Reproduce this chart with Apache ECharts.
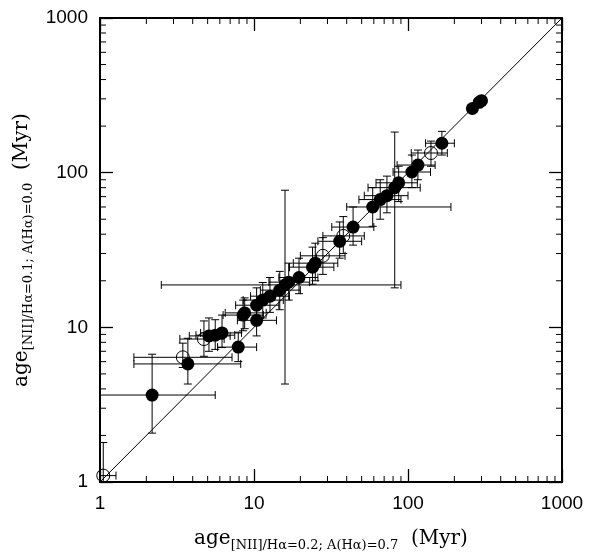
<!DOCTYPE html>
<html><head><meta charset="utf-8">
<script src="https://cdn.jsdelivr.net/npm/echarts@6/dist/echarts.min.js"></script>
<style>html,body{margin:0;padding:0;background:#fff}#c{width:601px;height:560px}</style>
</head><body><div id="c"></div>
<script>
// x, y, xLo, xHi, yLo, yHi, filled(1)/open(0)
const xVals =  [1.05,2.18,3.72,3.45,4.73,5.1,5.6,6.2,7.9,8.5,8.7,10.4,10.4,11.4,12.7,14.7,15.9,16.8,19.6,24,25,28,36,38,44,59,66,73,82,87,106,116,141,166,262,290,300];
const yVals =  [1.1,3.65,5.8,6.4,8.4,8.8,8.9,9.2,7.45,12.0,12.4,11.1,13.9,15.0,15.9,17.4,18.8,19.6,21,24.5,26,29,36,39,44.5,60,67,71,80,86,101,112,134,155,260,285,292];
const xLo =    [1.0,1.0,1.66,1.66,3.3,3.8,4.2,4.5,5.8,6.3,6.5,7.8,7.6,8.5,9.5,11,2.5,12.5,14.5,17,18,20,26,28,32,40,48,52,55,62,80,85,105,130,245,275,285];
const xHi =    [1.27,5.6,8.2,7.2,6.4,7,7.5,8.3,10.4,11.5,12,14,14.5,15.5,17,20,90,23,26,33,35,39,50,52,60,190,90,100,120,115,140,150,180,200,280,305,315];
const yLo =    [1.0,2.07,4.3,5.5,6.5,7,7.2,7.4,6.0,9.5,9.8,8.8,11,11.5,12.5,13,4.3,15,16.5,19,20,22,28,30,34,45,50,55,18,65,80,90,110,130,245,275,280];
const yHi =    [1.8,6.7,8.5,7.9,11,11.5,11.2,12,9.3,15,15.5,14,18,19.5,21,23,77,26,28,33,35,38,48,52,60,80,90,95,183,110,130,140,160,185,275,300,305];
const filled = [0,1,1,0,0,1,1,1,1,1,1,1,1,1,1,1,1,1,1,1,1,0,1,0,1,1,1,1,1,1,1,1,0,1,1,1,1];
const minorTickVals = [2,3,4,5,6,7,8,9,20,30,40,50,60,70,80,90,200,300,400,500,600,700,800,900];

const pts = xVals.map((x,i)=>[x,yVals[i],xLo[i],xHi[i],yLo[i],yHi[i]]);
const chart = echarts.init(document.getElementById('c'));
const tickFont = {fontFamily:'Liberation Sans',fontSize:19,color:'#000'};
const axBase = (pos, show) => ({
  type:'log', logBase:10, min:1, max:1000, position:pos,
  axisLine:{show:true,onZero:false,lineStyle:{color:'#000',width:2}},
  axisTick:{show:true,inside:true,length:13,lineStyle:{color:'#000',width:1.3}},
  splitLine:{show:false},
  axisLabel:Object.assign({show:show,margin:12,formatter:v=>String(v)},tickFont)
});
const serif = 'DejaVu Serif';
const rich = {
  a:{fontFamily:serif,fontSize:20,color:'#000'},
  s:{fontFamily:serif,fontSize:13,color:'#000',verticalAlign:'bottom',padding:[13,0,0,0]}
};
const xA = Object.assign(axBase('bottom',true),{name:'{a|age}{s|[NII]/Hα=0.2; A(Hα)=0.7}{a|  (Myr)}',nameLocation:'middle',nameGap:44,nameTextStyle:{rich:rich}});
const yA = Object.assign(axBase('left',true),{name:'{a|age}{s|[NII]/Hα=0.1; A(Hα)=0.0}{a|  (Myr)}',nameLocation:'middle',nameGap:58,nameTextStyle:{rich:rich,padding:[0,0,0,0]}});
chart.setOption({
  animation:false,
  grid:{left:100,right:39,top:18,bottom:78},
  xAxis:[xA, axBase('top',false)],
  yAxis:[yA, axBase('right',false)],
  series:[
    {type:'custom',data:minorTickVals.map(v=>[v]),z:1,silent:true,renderItem:(p,api)=>{
      const v=api.value(0);
      const a=api.coord([v,1]), b=api.coord([v,1000]), c=api.coord([1,v]), d=api.coord([1000,v]);
      const st={stroke:'#000',lineWidth:1}, L=6;
      const ln=(x1,y1,x2,y2)=>({type:'line',shape:{x1,y1,x2,y2},style:st});
      return {type:'group',children:[ln(a[0],a[1],a[0],a[1]-L),ln(b[0],b[1],b[0],b[1]+L),ln(c[0],c[1],c[0]+L,c[1]),ln(d[0],d[1],d[0]-L,d[1])]};
    }},
    {type:'line',data:[[1,1],[1000,1000]],symbol:'none',lineStyle:{color:'#000',width:1},z:1},
    {type:'custom',data:pts,z:2,renderItem:(p,api)=>{
      const c=api.coord([api.value(0),api.value(1)]);
      const xl=api.coord([api.value(2),api.value(1)])[0], xh=api.coord([api.value(3),api.value(1)])[0];
      const yl=api.coord([api.value(0),api.value(4)])[1], yh=api.coord([api.value(0),api.value(5)])[1];
      const cap=4, st={stroke:'#000',lineWidth:1};
      const L=(a,b,c2,d)=>({type:'line',shape:{x1:a,y1:b,x2:c2,y2:d},style:st});
      return {type:'group',children:[
        L(xl,c[1],xh,c[1]), L(xl,c[1]-cap,xl,c[1]+cap), L(xh,c[1]-cap,xh,c[1]+cap),
        L(c[0],yl,c[0],yh), L(c[0]-cap,yl,c[0]+cap,yl), L(c[0]-cap,yh,c[0]+cap,yh)
      ]};
    }},
    {type:'scatter',z:3,symbolSize:13,data:pts.map((p,i)=>({value:[p[0],p[1]],itemStyle:filled[i]?{color:'#000',opacity:1}:{color:'rgba(255,255,255,0)',borderColor:'#000',borderWidth:1,opacity:1}}))}
  ]
});
</script></body></html>
